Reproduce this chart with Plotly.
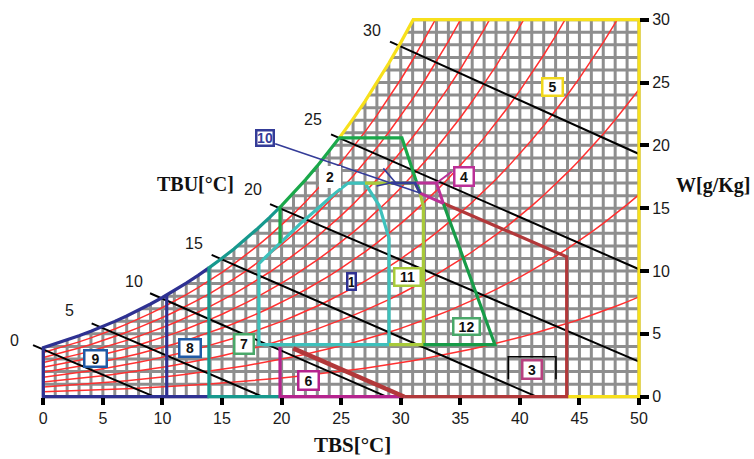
import numpy as np
import plotly.graph_objects as go

# ---------------------------------------------------------------------------
# Psychrometric base data
# ---------------------------------------------------------------------------
TBS_TABLE = list(range(0, 51))  # dry-bulb temperature, °C
PSAT_TABLE = [  # saturation vapour pressure of water, kPa
    0.6112, 0.6571, 0.7060, 0.7581, 0.8135, 0.8726, 0.9354, 1.0021, 1.0730, 1.1483,
    1.2282, 1.3129, 1.4028, 1.4981, 1.5989, 1.7057, 1.8188, 1.9383, 2.0647, 2.1982,
    2.3392, 2.4881, 2.6452, 2.8109, 2.9856, 3.1697, 3.3637, 3.5679, 3.7829, 4.0092,
    4.2467, 4.4966, 4.7592, 5.0351, 5.3247, 5.6286, 5.9475, 6.2818, 6.6324, 6.9997,
    7.3844, 7.7873, 8.2090, 8.6503, 9.1118, 9.5944, 10.0988, 10.6259, 11.1764, 11.7512,
    12.3513,
]
P_ATM = 98.0  # station pressure, kPa
RH_LEVELS = [10, 20, 30, 40, 50, 60, 70, 80, 90]  # relative humidity, %

X_TICKS = [0, 5, 10, 15, 20, 25, 30, 35, 40, 45, 50]
Y_TICKS = [0, 5, 10, 15, 20, 25, 30]
T_MAX = 50
W_MAX = 30

# Wet-bulb (TBU) lines: start and end points (TBS °C, W g/kg)
TBU_VALUES = [0, 5, 10, 15, 20, 25, 30]
TBU_T0 = [-0.86, 4.06, 8.96, 14.13, 19.03, 24.15, 29.10]
TBU_W0 = [4.11, 5.83, 8.23, 11.28, 15.33, 20.88, 28.25]
TBU_T1 = [9.3, 18.4, 28.8, 41.4, 50.0, 50.0, 50.0]
TBU_W1 = [0.0, 0.0, 0.0, 0.0, 2.79, 10.14, 19.31]
TBU_LABEL_T = [-2.38, 2.16, 7.61, 12.65, 17.56, 22.66, 27.59]
TBU_LABEL_W = [4.51, 6.86, 9.15, 12.21, 16.45, 22.02, 29.14]

# Bioclimatic zone boundaries (TBS °C, W g/kg)
T_Z89 = 10.36      # zone 9 | zone 8 divide
T_Z87 = 13.9       # zone 8 | zone 7 divide
T_Z2 = 19.87       # left edge of zones 2 and 6
W_Z5 = 20.6        # lower edge of zone 5 on the saturation curve
W_FLOOR = 4.15     # common lower edge of zones 1, 11, 12

ZONE1_T = [29.02, 18.1, 18.1, 19.87, 21.55, 23.25, 24.5, 25.58, 27.0, 28.2, 29.02, 29.02]
ZONE1_W = [W_FLOOR, W_FLOOR, 10.6, 12.22, 13.75, 15.15, 16.2, 17.0, 17.0, 15.2, 12.6, W_FLOOR]
ZONE2_T = [30.1, 31.63]
ZONE2_W = [W_Z5, 16.2]
ZONE2_BASE_W = 12.22
ZONE3_T = [43.93, 43.93, 33.57]
ZONE3_W = [0.0, 11.14, 15.39]
ZONE3_DIAG_T = [20.98, 30.3]
ZONE3_DIAG_W = [3.85, 0.0]
ZONE3_MARK_T = [39.03, 39.03, 43.03, 43.03]
ZONE3_MARK_W = [1.38, 3.18, 3.18, 1.38]
ZONE4_T = [31.2, 33.0, 33.57, 31.63]
ZONE4_W = [17.0, 17.0, 15.39, 16.2]
ZONE4_LEADER_T = [33.0, 34.28]
ZONE4_LEADER_W = [17.0, 17.9]
ZONE6_T = [T_Z2, T_Z2, 30.3]
ZONE6_W = [3.95, 0.0, 0.0]
ZONE10_T = [29.2, 31.2, 31.63]
ZONE10_W = [17.0, 17.0, 16.2]
ZONE10_LEADER_T = [19.46, 31.63]
ZONE10_LEADER_W = [20.13, 16.2]
ZONE10_ARROW_T = [28.54, 29.52, 27.98]
ZONE10_ARROW_W = [18.17, 17.08, 16.77]
ZONE11_T = [27.0, 31.2, 31.63, 31.9, 31.9, 29.02]
ZONE11_W = [17.0, 17.0, 16.2, 15.1, W_FLOOR, W_FLOOR]
ZONE12_T = [31.9, 37.9, 33.57]
ZONE12_W = [W_FLOOR, W_FLOOR, 15.39]

# Zone labels and their positions (TBS, W)
ZONE_LABELS = ["9", "8", "7", "6", "1", "11", "12", "3", "4", "5", "2", "10"]
LABEL_T = [4.42, 12.29, 16.85, 22.22, 25.91, 30.61, 35.50, 41.02, 35.31, 42.76, 24.06, 18.57]
LABEL_W = [3.02, 3.85, 4.17, 1.30, 9.19, 9.50, 5.61, 2.16, 17.54, 24.67, 17.51, 20.56]

# ---------------------------------------------------------------------------
# Derived psychrometric curves
# ---------------------------------------------------------------------------
TBS = np.array(TBS_TABLE, dtype=float)
PS = np.array(PSAT_TABLE)
W_SAT = 622.0 * PS / (P_ATM - PS)


def w_sat(t):
    return float(np.interp(t, TBS, W_SAT))


def t_sat(w):
    return float(np.interp(w, W_SAT, TBS))


def sat_piece(t0, t1):
    ts = [t0] + [t for t in TBS_TABLE if t0 < t < t1] + [t1]
    return ts, [w_sat(t) for t in ts]


def clip_top(ts, ws, wmax):
    out_t, out_w = [ts[0]], [ws[0]]
    for i in range(1, len(ts)):
        if ws[i] >= wmax:
            f = (wmax - ws[i - 1]) / (ws[i] - ws[i - 1])
            out_t.append(ts[i - 1] + f * (ts[i] - ts[i - 1]))
            out_w.append(wmax)
            break
        out_t.append(ts[i])
        out_w.append(ws[i])
    return out_t, out_w


fig = go.Figure()


def add_line(xs, ys, color, width):
    fig.add_trace(go.Scatter(x=xs, y=ys, mode="lines",
                             line=dict(color=color, width=width),
                             hoverinfo="skip", showlegend=False))


# grid under the saturation curve
gx, gy = [], []
for t in range(0, T_MAX + 1):
    gx += [t, t, None]
    gy += [0, min(w_sat(t), W_MAX), None]
for w in range(0, W_MAX + 1):
    start = 0.0 if w <= W_SAT[0] else t_sat(w)
    gx += [start, T_MAX, None]
    gy += [w, w, None]
add_line(gx, gy, "#8e8e8e", 3)

# relative humidity curves
for rh in RH_LEVELS:
    pv = PS * rh / 100.0
    ws = 622.0 * pv / (P_ATM - pv)
    ct, cw = clip_top(TBS_TABLE, list(ws), W_MAX)
    add_line(ct, cw, "#ff3030", 1.5)

# wet-bulb lines
for i in range(len(TBU_VALUES)):
    add_line([TBU_T0[i], TBU_T1[i]], [TBU_W0[i], TBU_W1[i]], "#000000", 2)

# zone 5 (yellow): saturation above W_Z5, upper limit, right limit
st, sw = sat_piece(t_sat(W_Z5), t_sat(W_MAX))
add_line(st + [T_MAX, T_MAX, ZONE3_T[0]], sw + [W_MAX, 0, 0], "#f7e01c", 3.2)

# zones 9 and 8 (navy)
st, sw = sat_piece(0, T_Z87)
add_line([T_Z87, 0] + st, [0, 0] + sw, "#2e3192", 3.2)
add_line([T_Z89, T_Z89], [w_sat(T_Z89), 0], "#2e3192", 3.2)

# zone 7 (teal)
st, sw = sat_piece(T_Z87, T_Z2)
add_line([T_Z2, T_Z87] + st, [0, 0] + sw, "#17998e", 3.2)

# zone 6 (magenta)
add_line(ZONE6_T, ZONE6_W, "#b5238e", 3.2)

# zone 3 (brown)
add_line([ZONE3_DIAG_T[1]] + ZONE3_T, [0.0] + ZONE3_W, "#b2383a", 3.2)
add_line(ZONE3_DIAG_T, ZONE3_DIAG_W, "#b2383a", 4.5)

# zone 1 (cyan)
add_line(ZONE1_T, ZONE1_W, "#3ec1bc", 3.2)

# zone 2 (green)
st, sw = sat_piece(T_Z2, t_sat(W_Z5))
add_line([T_Z2] + st + ZONE2_T, [ZONE2_BASE_W] + sw + ZONE2_W, "#1aa84a", 3.2)

# zone 11 (yellow-green)
add_line(ZONE11_T, ZONE11_W, "#a8ca3a", 3.2)

# zone 12 (dark green)
add_line(ZONE12_T, ZONE12_W, "#179c48", 3.2)

# zone 4 (magenta)
add_line(ZONE4_T, ZONE4_W, "#bb3097", 3)
add_line(ZONE4_LEADER_T, ZONE4_LEADER_W, "#bb3097", 2)

# zone 10 (blue)
add_line(ZONE10_T, ZONE10_W, "#343c98", 3)
add_line(ZONE10_LEADER_T, ZONE10_LEADER_W, "#343c98", 1.6)
add_line(ZONE10_ARROW_T, ZONE10_ARROW_W, "#343c98", 1.6)

# zone 3 bracket
add_line(ZONE3_MARK_T, ZONE3_MARK_W, "#000000", 1.6)

# ---------------------------------------------------------------------------
# Labels
# ---------------------------------------------------------------------------
BOX_STYLE = {  # inner width, inner height (px), border colour, text colour
    "9": (20, 14, "#1f5aa6", "#111111"),
    "8": (19, 15, "#1f5aa6", "#111111"),
    "7": (17, 17, "#4aa86a", "#111111"),
    "6": (18, 16, "#b5238e", "#111111"),
    "1": (6, 14, "#2e3192", "#111111"),
    "11": (24, 15, "#a8ca3a", "#111111"),
    "12": (24, 14, "#4aa86a", "#111111"),
    "3": (17, 16, "#b8407f", "#111111"),
    "4": (17, 16, "#bb3097", "#111111"),
    "5": (18, 15, "#f0d81c", "#111111"),
    "2": (17, 17, "#ffffff", "#111111"),
    "10": (15, 13, "#343c98", "#343c98"),
}

annotations = []
for txt, t, w in zip(ZONE_LABELS, LABEL_T, LABEL_W):
    bw, bh, bc, tc = BOX_STYLE[txt]
    annotations.append(dict(
        x=t, y=w, xref="x", yref="y", text=txt, showarrow=False,
        xanchor="center", yanchor="middle",
        bgcolor="#ffffff", bordercolor=bc, borderwidth=2.5, borderpad=0,
        width=bw, height=bh,
        font=dict(family="Liberation Sans", size=14, color=tc, weight="bold"),
    ))

for v, t, w in zip(TBU_VALUES, TBU_LABEL_T, TBU_LABEL_W):
    annotations.append(dict(
        x=t, y=w, xref="x", yref="y", text=str(v), showarrow=False,
        xanchor="center", yanchor="middle",
        font=dict(family="Liberation Sans", size=16, color="#1a1a1a"),
    ))

TITLE_FONT = dict(family="Liberation Serif", size=20, color="#111111", weight="bold")
for txt, px, py, size in [("TBS[°C]", 352.5, 445, 21),
                          ("TBU[°C]", 195, 184, 20),
                          ("W[g/Kg]", 713, 185, 20)]:
    annotations.append(dict(
        x=px / 754, y=1 - py / 459, xref="paper", yref="paper", text=txt,
        showarrow=False, xanchor="center", yanchor="middle",
        font={**TITLE_FONT, "size": size},
    ))

# axis scaling: 11.914 px per °C, 12.567 px per g/kg
x_lo = -43.3 / 11.914
x_hi = (754 - 43.3) / 11.914
y_lo = (396.7 - 459) / 12.567
y_hi = 396.7 / 12.567

fig.update_layout(
    width=754, height=459,
    margin=dict(l=0, r=0, t=0, b=0),
    paper_bgcolor="#ffffff", plot_bgcolor="#ffffff",
    showlegend=False,
    annotations=annotations,
    xaxis=dict(
        range=[x_lo, x_hi], tickvals=X_TICKS, ticktext=[str(v) for v in X_TICKS],
        ticks="outside", ticklen=7, tickwidth=4, tickcolor="#000000",
        tickfont=dict(family="Liberation Sans", size=16, color="#1a1a1a"),
        showgrid=False, zeroline=False, showline=False,
        anchor="free", position=(459 - 396.7) / 459,
    ),
    yaxis=dict(
        range=[y_lo, y_hi], tickvals=Y_TICKS, ticktext=[str(v) for v in Y_TICKS],
        ticks="outside", ticklen=9, tickwidth=4, tickcolor="#000000",
        tickfont=dict(family="Liberation Sans", size=16, color="#1a1a1a"),
        showgrid=False, zeroline=False, showline=False,
        side="right", anchor="free", position=639 / 754,
    ),
)

fig.write_html("out.html")
